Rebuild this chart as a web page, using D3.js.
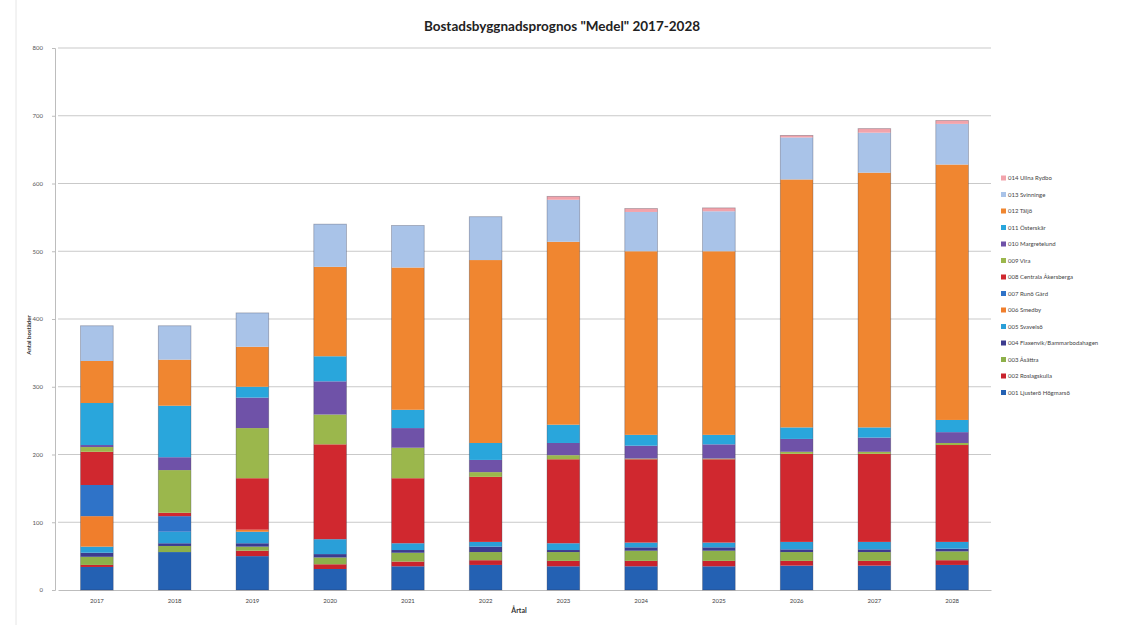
<!DOCTYPE html>
<html>
<head>
<meta charset="utf-8">
<script src="https://cdn.jsdelivr.net/npm/d3@7"></script>
<style>
  html, body { margin: 0; padding: 0; background: #fff; }
  svg { display: block; }
</style>
</head>
<body>
<svg id="chart" width="1124" height="625"></svg>
<script>
// ---- Data ----
const years = ["2017","2018","2019","2020","2021","2022","2023","2024","2025","2026","2027","2028"];
const seriesNames = [
  "001 Ljusterö Högmarsö",
  "002 Roslagskulla",
  "003 Åsättra",
  "004 Flaxenvik/Bammarbodahagen",
  "005 Svavelsö",
  "006 Smedby",
  "007 Runö Gård",
  "008 Centrala Åkersberga",
  "009 Vira",
  "010 Margretelund",
  "011 Österskär",
  "012 Täljö",
  "013 Svinninge",
  "014 Ullna Rydbo"
];
const s001 = [34, 56, 50, 31, 35, 37, 35, 35, 35, 36, 36, 37];
const s002 = [3, 0, 8, 7, 7, 7, 8, 8, 8, 7, 7, 7];
const s003 = [12, 9, 6, 10, 13, 12, 13, 15, 15, 13, 13, 13];
const s004 = [6, 4, 5, 5, 4, 8, 3, 5, 5, 4, 4, 4];
const s005 = [9, 17, 17, 22, 10, 7, 10, 7, 7, 11, 11, 10];
const s006 = [45, 0, 3, 0, 0, 0, 0, 0, 0, 0, 0, 0];
const s007 = [46, 23, 0, 0, 0, 0, 0, 0, 0, 0, 0, 0];
const s008 = [49, 5, 76, 140, 96, 96, 124, 123, 123, 130, 130, 143];
const s009 = [7, 63, 74, 44, 45, 7, 6, 1, 1, 3, 3, 3];
const s010 = [3, 19, 45, 49, 29, 18, 18, 19, 21, 19, 21, 16];
const s011 = [62, 76, 16, 37, 27, 25, 27, 16, 14, 17, 15, 18];
const s012 = [62, 68, 59, 132, 210, 270, 270, 271, 271, 366, 376, 377];
const s013 = [52, 50, 50, 63, 62, 64, 62, 58, 59, 62, 59, 60];
const s014 = [0, 0, 0, 0, 0, 0, 5, 5, 5, 3, 6, 5];
const seriesValues = [s001, s002, s003, s004, s005, s006, s007, s008, s009, s010, s011, s012, s013, s014];
const seriesColors = [
  "#2461b3", "#c9232d", "#8db04a", "#3c3b8e", "#2a9fd8", "#f07e2c",
  "#2f73c8", "#d0282f", "#9bb74c", "#6f52a8", "#29a6dc", "#f08630",
  "#a9c3e8", "#f2a3ab"
];
const yTicks = [0, 100, 200, 300, 400, 500, 600, 700, 800];
const titleText = 'Bostadsbyggnadsprognos "Medel" 2017-2028';
const yTitle = "Antal bostäder";
const xTitle = "Årtal";

// ---- Build table ----
const table = years.map((y, i) => {
  const row = { year: y };
  seriesNames.forEach((n, k) => { row[n] = seriesValues[k][i]; });
  return row;
});
const stacked = d3.stack().keys(seriesNames)(table);

// ---- Layout ----
const svg = d3.select("#chart");
const plot = { left: 58, right: 991, top: 48, bottom: 590 };

const x = d3.scaleBand().domain(years).range([plot.left, plot.right])
  .paddingInner(0.58).paddingOuter(0.29);
const y = d3.scaleLinear().domain([0, 800]).range([plot.bottom, plot.top]);
const color = d3.scaleOrdinal().domain(seriesNames).range(seriesColors);

const fontUI = "Lato, 'Open Sans', 'Liberation Sans', sans-serif";

// faint scan border lines
svg.append("line").attr("x1", 16).attr("x2", 16).attr("y1", 0).attr("y2", 625)
  .attr("stroke", "#e6e6e6").attr("stroke-width", 1);

// Gridlines
svg.append("g").selectAll("line").data(yTicks.filter(d => d > 0)).join("line")
  .attr("x1", plot.left).attr("x2", plot.right)
  .attr("y1", d => y(d)).attr("y2", d => y(d))
  .attr("stroke", "#c9c9c9").attr("stroke-width", 1);

// Y axis
const yAxis = svg.append("g").attr("transform", `translate(${plot.left - 3},0)`)
  .call(d3.axisLeft(y).tickValues(yTicks).tickSize(3).tickPadding(9).tickFormat(d3.format("d")));
yAxis.select(".domain").attr("stroke", "#bdbdbd");
yAxis.selectAll(".tick line").attr("stroke", "#bdbdbd");
yAxis.selectAll("text").attr("font-family", fontUI).attr("font-size", 6).attr("fill", "#555");

// X axis
const xAxis = svg.append("g").attr("transform", `translate(0,${plot.bottom})`)
  .call(d3.axisBottom(x).tickSize(0).tickPadding(9));
xAxis.select(".domain").attr("stroke", "#bdbdbd");
xAxis.selectAll("text").attr("font-family", fontUI).attr("font-size", 6).attr("fill", "#444");

// Bars
svg.append("g").selectAll("g").data(stacked).join("g")
  .attr("fill", d => color(d.key))
  .selectAll("rect").data(d => d).join("rect")
  .attr("x", d => x(d.data.year))
  .attr("width", x.bandwidth())
  .attr("y", d => y(d[1]))
  .attr("height", d => Math.max(0, y(d[0]) - y(d[1])));

// faint dark outline on stacks
svg.append("g").selectAll("rect").data(table).join("rect")
  .attr("x", d => x(d.year))
  .attr("width", x.bandwidth())
  .attr("y", d => y(d3.sum(seriesNames, n => d[n])))
  .attr("height", d => y(0) - y(d3.sum(seriesNames, n => d[n])))
  .attr("fill", "none").attr("stroke", "rgba(40,40,60,0.35)").attr("stroke-width", 0.8);

// Title
svg.append("text").attr("x", 562).attr("y", 31).attr("text-anchor", "middle")
  .attr("font-family", fontUI).attr("font-weight", "bold").attr("font-size", 13.5)
  .attr("fill", "#222").text(titleText);

// Axis titles
svg.append("text").attr("transform", "translate(31,335) rotate(-90)")
  .attr("text-anchor", "middle").attr("font-family", fontUI).attr("font-weight", "bold")
  .attr("font-size", 6).attr("fill", "#333").text(yTitle);
svg.append("text").attr("x", 519).attr("y", 613).attr("text-anchor", "middle")
  .attr("font-family", fontUI).attr("font-weight", "bold").attr("font-size", 7)
  .attr("fill", "#333").text(xTitle);

// Legend (reversed order like the reference)
const legendItems = seriesNames.slice().reverse();
const lg = svg.append("g").attr("transform", "translate(1001,178)");
const li = lg.selectAll("g").data(legendItems).join("g")
  .attr("transform", (d, i) => `translate(0,${i * 16.5})`);
li.append("rect").attr("x", 0).attr("y", -2.5).attr("width", 5).attr("height", 5)
  .attr("fill", d => color(d));
li.append("text").attr("x", 7).attr("y", 0).attr("dy", "0.35em")
  .attr("font-family", fontUI).attr("font-size", 6).attr("fill", "#444").text(d => d);
</script>
</body>
</html>
